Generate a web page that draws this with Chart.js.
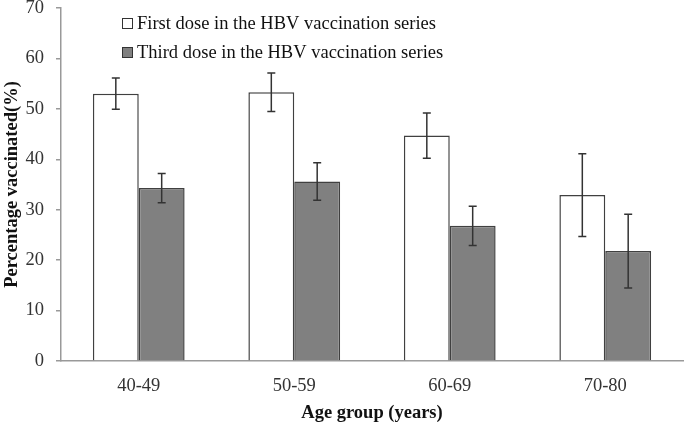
<!DOCTYPE html>
<html>
<head>
<meta charset="utf-8">
<script src="https://cdn.jsdelivr.net/npm/chart.js@4.4.1/dist/chart.umd.min.js"></script>
<style>
  html, body { margin: 0; padding: 0; background: #fff; }
  #wrap { width: 685px; height: 422px; }
</style>
</head>
<body>
<div id="wrap"><canvas id="grafico"></canvas></div>
<script>
const grupos = ["40-49", "50-59", "60-69", "70-80"];
const primeraDosis = [53, 53.3, 44.7, 32.9];
const primeraError = [3.1, 3.8, 4.5, 8.2];
const terceraDosis = [34.3, 35.6, 26.8, 21.8];
const terceraError = [2.9, 3.7, 3.9, 7.3];
const ticksY = [0, 10, 20, 30, 40, 50, 60, 70];
const etiquetas = ["First dose in the HBV vaccination series", "Third dose in the HBV vaccination series"];

const fuente = "'Liberation Serif', 'Times New Roman', serif";

// barras de error dibujadas con las escalas del grafico
const barrasError = {
    id: "barrasError",
    afterDatasetsDraw(chart) {
        const ctx = chart.ctx;
        const escalaY = chart.scales.y;
        const errores = [primeraError, terceraError];
        ctx.save();
        ctx.strokeStyle = "#333";
        ctx.lineWidth = 1.5;
        chart.data.datasets.forEach((ds, i) => {
            chart.getDatasetMeta(i).data.forEach((barra, j) => {
                const x = barra.x;
                const arriba = escalaY.getPixelForValue(ds.data[j] + errores[i][j]);
                const abajo = escalaY.getPixelForValue(ds.data[j] - errores[i][j]);
                ctx.beginPath();
                ctx.moveTo(x, arriba); ctx.lineTo(x, abajo);
                ctx.moveTo(x - 4, arriba); ctx.lineTo(x + 4, arriba);
                ctx.moveTo(x - 4, abajo); ctx.lineTo(x + 4, abajo);
                ctx.stroke();
            });
        });
        ctx.restore();
    },
    afterDraw(chart) {
        // leyenda dentro del area del grafico
        const ctx = chart.ctx;
        const x0 = 122, ys = [23, 52];
        ctx.save();
        ctx.font = "18.5px " + fuente;
        ctx.textBaseline = "middle";
        chart.data.datasets.forEach((ds, i) => {
            ctx.fillStyle = ds.backgroundColor;
            ctx.fillRect(x0, ys[i] - 5, 10, 10);
            ctx.strokeStyle = "#333";
            ctx.lineWidth = 1;
            ctx.strokeRect(x0 + 0.5, ys[i] - 5 + 0.5, 10, 10);
            ctx.fillStyle = "#111";
            ctx.fillText(etiquetas[i], x0 + 15, ys[i] + 1);
        });
        ctx.restore();
    }
};

new Chart(document.getElementById("grafico"), {
    type: "bar",
    data: {
        labels: grupos,
        datasets: [
            {
                label: etiquetas[0],
                data: primeraDosis,
                backgroundColor: "#ffffff",
                borderColor: "#404040",
                borderWidth: 1.5,
            },
            {
                label: etiquetas[1],
                data: terceraDosis,
                backgroundColor: "#808080",
                borderColor: "#404040",
                borderWidth: 1.5,
            },
        ],
    },
    options: {
        responsive: true,
        maintainAspectRatio: false,
        animation: false,
        datasets: { bar: { categoryPercentage: 0.59, barPercentage: 1 } },
        layout: { padding: { top: 8, right: 2 } },
        plugins: { legend: { display: false }, tooltip: { enabled: false } },
        scales: {
            x: {
                grid: { display: false },
                border: { color: "#999", width: 1.5 },
                ticks: { color: "#333", font: { family: fuente, size: 18.5 }, padding: 6 },
                title: {
                    display: true,
                    text: "Age group (years)",
                    color: "#111",
                    font: { family: fuente, size: 18.5, weight: "bold", lineHeight: 1 },
                    padding: { top: 0, bottom: 0 },
                },
                afterFit(escala) { escala.height = 61; escala.paddingLeft = 0; escala.paddingRight = 0; },
            },
            y: {
                min: 0,
                max: 70,
                afterBuildTicks(escala) { escala.ticks = ticksY.map(v => ({ value: v })); },
                grid: { drawOnChartArea: false, drawTicks: true, tickLength: 5, color: "#999", lineWidth: 1.5 },
                border: { color: "#999", width: 1.5 },
                ticks: { color: "#333", font: { family: fuente, size: 18.5 }, padding: 12 },
                title: {
                    display: true,
                    text: "Percentage vaccinated(%)",
                    color: "#111",
                    font: { family: fuente, size: 18.5, weight: "bold" },
                    padding: { top: 1, bottom: 0 },
                },
                afterFit(escala) { escala.width = 61; escala.paddingTop = 0; escala.paddingBottom = 0; },
            },
        },
    },
    plugins: [barrasError],
});
</script>
</body>
</html>
